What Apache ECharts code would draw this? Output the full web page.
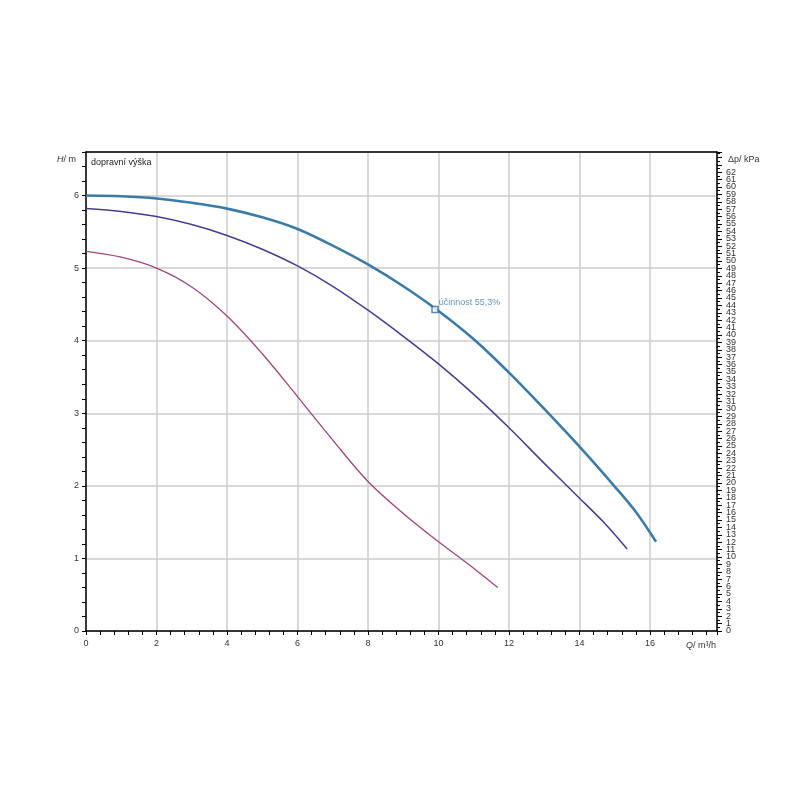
<!DOCTYPE html>
<html>
<head>
<meta charset="utf-8">
<script src="https://cdn.jsdelivr.net/npm/echarts@6/dist/echarts.min.js"></script>
<style>
html,body{margin:0;padding:0;background:#fff;}
#chart{width:800px;height:800px;}
</style>
</head>
<body>
<div id="chart"></div>
<script>
// Flow Q (m³/h) and head H (m) for the three pump curves
const qTop = [0, 1, 2, 3, 4, 5, 6, 7, 8, 9, 10, 11, 12, 13, 14, 15, 15.6, 16.17];
const hTop = [6.0, 5.99, 5.96, 5.9, 5.82, 5.7, 5.54, 5.31, 5.05, 4.75, 4.41, 4.02, 3.56, 3.06, 2.54, 1.99, 1.64, 1.23];

const qMid = [0, 1, 2, 3, 4, 5, 6, 7, 8, 9, 10, 11, 12, 13, 14, 14.7, 15.35];
const hMid = [5.82, 5.78, 5.71, 5.6, 5.45, 5.26, 5.03, 4.75, 4.42, 4.06, 3.68, 3.26, 2.80, 2.31, 1.83, 1.49, 1.13];

const qLow = [0, 1, 2, 3, 4, 5, 6, 7, 8, 9, 10, 10.85, 11.68];
const hLow = [5.23, 5.15, 5.0, 4.74, 4.34, 3.82, 3.23, 2.63, 2.06, 1.62, 1.23, 0.92, 0.60];

// Operating point (efficiency marker)
const opQ = 9.9;
const opH = 4.43;
const opLabel = 'účinnost 55,3%';

// Axis ranges
const qMax = 17.9;
const hMax = 6.6;
const kPaPerM = 9.80665;
const kPaMax = hMax * kPaPerM;

const pairs = (xs, ys) => xs.map((x, i) => [x, ys[i]]);
const isMult = (v, m) => Math.abs(v / m - Math.round(v / m)) < 1e-6;

const chart = echarts.init(document.getElementById('chart'), null, {renderer: 'canvas'});
const font = 'Liberation Sans, Arial, sans-serif';
const labelColor = '#333';
const axisLineStyle = {show: true, onZero: false, lineStyle: {color: '#000', width: 1.5}};

chart.setOption({
  backgroundColor: '#fff',
  animation: false,
  grid: {left: 86, right: 83, top: 152, bottom: 169, containLabel: false},
  xAxis: [
    {
      type: 'value', min: 0, max: qMax, interval: 0.4, position: 'bottom',
      axisLine: axisLineStyle,
      axisTick: {show: true, inside: false, length: 4, lineStyle: {color: '#000', width: 1}},
      axisLabel: {
        margin: 8, fontSize: 9, color: labelColor, fontFamily: font,
        showMinLabel: true, hideOverlap: false,
        formatter: v => (isMult(v, 2) && v < qMax - 0.01) ? String(Math.round(v)) : ''
      },
      splitLine: {show: false}
    },
    {
      type: 'value', min: 0, max: qMax, interval: 2, position: 'top',
      axisLine: axisLineStyle,
      axisTick: {show: false}, axisLabel: {show: false},
      splitLine: {show: true, lineStyle: {color: '#cccccc', width: 1.5}}
    }
  ],
  yAxis: [
    {
      type: 'value', min: 0, max: hMax, interval: 0.2, position: 'left',
      axisLine: axisLineStyle,
      axisTick: {show: true, inside: false, length: 4, lineStyle: {color: '#000', width: 1}},
      axisLabel: {
        margin: 7, fontSize: 9, color: labelColor, fontFamily: font,
        showMinLabel: true, hideOverlap: false,
        formatter: v => (isMult(v, 1) && v < hMax - 0.01) ? String(Math.round(v)) : ''
      },
      splitLine: {show: false}
    },
    {
      type: 'value', min: 0, max: kPaMax, interval: 1, position: 'right',
      axisLine: axisLineStyle,
      axisTick: {show: true, inside: false, length: 5, lineStyle: {color: '#000', width: 1}},
      minorTick: {show: true, splitNumber: 2, length: 3, lineStyle: {color: '#000', width: 1}},
      axisLabel: {
        margin: 9, fontSize: 9, color: labelColor, fontFamily: font,
        showMinLabel: false, hideOverlap: false,
        formatter: v => (isMult(v, 1) && v >= 1 && v <= 62) ? String(Math.round(v)) : ''
      },
      splitLine: {show: false}
    },
    {
      type: 'value', min: 0, max: hMax, interval: 1, position: 'left',
      axisLine: {show: false, onZero: false}, axisTick: {show: false}, axisLabel: {show: false},
      splitLine: {show: true, lineStyle: {color: '#cccccc', width: 1.5}}
    },
    {
      type: 'value', min: 0, max: kPaMax, interval: kPaMax, position: 'right',
      axisLine: {show: false, onZero: false}, axisTick: {show: false},
      axisLabel: {
        margin: 9, fontSize: 9, color: labelColor, fontFamily: font,
        showMinLabel: true, showMaxLabel: false,
        formatter: v => (v === 0 ? '0' : '')
      },
      splitLine: {show: false}
    }
  ],
  graphic: [
    {type: 'text', left: 57, top: 155, style: {
      text: '{i|H}/ m', fontSize: 9, fill: labelColor, fontFamily: font,
      rich: {i: {fontStyle: 'italic', fontSize: 9, fill: labelColor, fontFamily: font}}
    }},
    {type: 'text', left: 91, top: 158, style: {text: 'dopravní výška', fontSize: 9, fill: '#222', fontFamily: font}},
    {type: 'text', left: 728, top: 155, style: {
      text: 'Δp/ kPa', fontSize: 9, fill: labelColor, fontFamily: font
    }},
    {type: 'text', left: 686, top: 641, style: {
      text: '{i|Q}/ m³/h', fontSize: 9, fill: labelColor, fontFamily: font,
      rich: {i: {fontStyle: 'italic', fontSize: 9, fill: labelColor, fontFamily: font}}
    }}
  ],
  series: [
    {
      type: 'line', xAxisIndex: 0, yAxisIndex: 0, data: pairs(qLow, hLow),
      smooth: 0.35, showSymbol: false, lineStyle: {color: '#a0457f', width: 1.3}
    },
    {
      type: 'line', xAxisIndex: 0, yAxisIndex: 0, data: pairs(qMid, hMid),
      smooth: 0.35, showSymbol: false, lineStyle: {color: '#4a3b8e', width: 1.5}
    },
    {
      type: 'line', xAxisIndex: 0, yAxisIndex: 0, data: pairs(qTop, hTop),
      smooth: 0.35, showSymbol: false, lineStyle: {color: '#3a7ca6', width: 2.6}
    },
    {
      type: 'scatter', xAxisIndex: 0, yAxisIndex: 0, data: [[opQ, opH]],
      symbol: 'rect', symbolSize: 6,
      itemStyle: {color: '#fff', borderColor: '#2f6fa0', borderWidth: 1.5},
      label: {
        show: true, position: 'right', offset: [-5, -7], formatter: opLabel,
        fontSize: 9, color: '#3f78a0', fontFamily: font
      },
      z: 5
    }
  ]
});
</script>
</body>
</html>
